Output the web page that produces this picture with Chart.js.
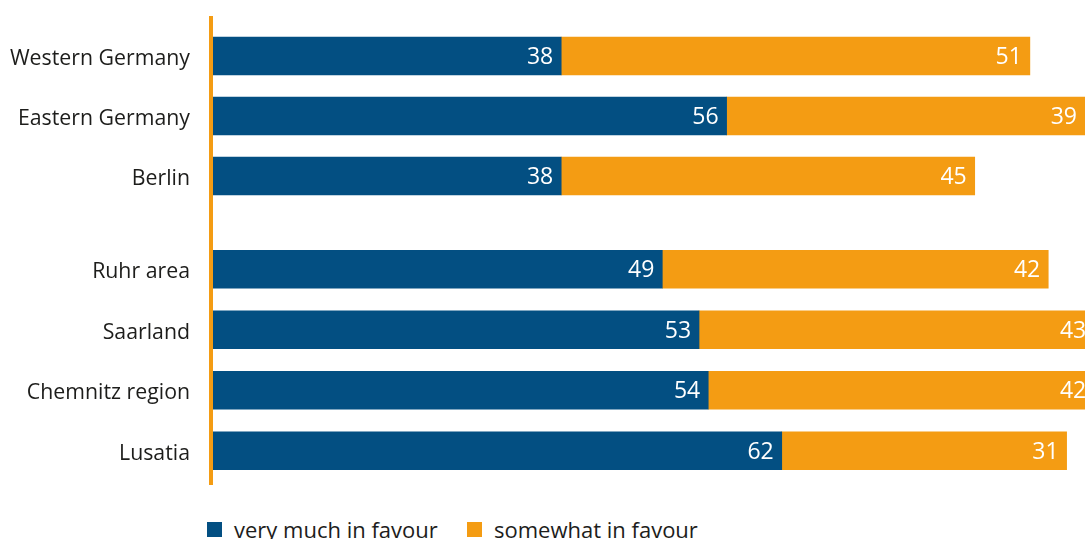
<!DOCTYPE html>
<html>
<head>
<meta charset="utf-8">
<script src="https://cdn.jsdelivr.net/npm/chart.js@4.4.0/dist/chart.umd.min.js"></script>
<style>
  body { margin: 0; background: #fff; font-family: "Open Sans", sans-serif; }
  #wrap { position: relative; width: 1085px; height: 539px; overflow: hidden; }
  #topBox { position: absolute; left: 0; top: 26px; }
  #bottomBox { position: absolute; left: 0; top: 239px; }
  #axisLine { position: absolute; left: 209px; top: 16px; width: 4px; height: 469px; background: #f49c13; }
  #legend { position: absolute; left: 207px; top: 515px; display: flex; color: #1d1d1b; font-size: 22px; line-height: 28px; }
  #legend .item { display: flex; align-items: center; }
  #legend .item:first-child { width: 260px; }
  #legend .sq { width: 15px; height: 15px; margin-right: 12px; }
</style>
</head>
<body>
<div id="wrap">
  <div id="topBox"><canvas id="topChart" width="1085" height="180"></canvas></div>
  <div id="bottomBox"><canvas id="bottomChart" width="1085" height="242"></canvas></div>
  <div id="axisLine"></div>
  <div id="legend"></div>
</div>
<script>
// regions, upper block
const regionsTop = ["Western Germany", "Eastern Germany", "Berlin"];
const veryMuchTop = [38, 56, 38];
const somewhatTop = [51, 39, 45];

// regions, lower block
const regionsBottom = ["Ruhr area", "Saarland", "Chemnitz region", "Lusatia"];
const veryMuchBottom = [49, 53, 54, 62];
const somewhatBottom = [42, 43, 42, 31];

const seriesNames = ["very much in favour", "somewhat in favour"];
const seriesColors = ["#034f82", "#f49c13"];

// white numbers at the right end of each bar piece
const barNumbers = {
  id: "barNumbers",
  afterDatasetsDraw(chart) {
    const ctx = chart.ctx;
    ctx.save();
    ctx.fillStyle = "#ffffff";
    ctx.font = "500 23px 'Open Sans'";
    ctx.textAlign = "right";
    ctx.textBaseline = "middle";
    chart.data.datasets.forEach((ds, i) => {
      chart.getDatasetMeta(i).data.forEach((bar, j) => {
        ctx.fillText(ds.data[j], bar.x - 8, bar.y + 1.5);
      });
    });
    ctx.restore();
  }
};

function makeChart(id, labels, veryMuch, somewhat) {
  const ctx = document.getElementById(id).getContext("2d");
  return new Chart(ctx, {
    type: "bar",
    data: {
      labels: labels,
      datasets: [
        { label: seriesNames[0], data: veryMuch, backgroundColor: seriesColors[0] },
        { label: seriesNames[1], data: somewhat, backgroundColor: seriesColors[1] }
      ]
    },
    options: {
      indexAxis: "y",
      responsive: false,
      animation: false,
      devicePixelRatio: 1,
      barThickness: 38,
      layout: { padding: 0 },
      plugins: { legend: { display: false }, tooltip: { enabled: false } },
      scales: {
        x: { stacked: true, min: 0, max: 95, display: false },
        y: {
          stacked: true,
          grid: { display: false, drawTicks: false },
          border: { display: false },
          ticks: { color: "#1d1d1b", padding: 22, labelOffset: 3, font: { family: "Open Sans", size: 21.3 } },
          // fixed label column, no extra room above/below the rows
          afterFit: (scale) => {
            scale.width = 212;
            scale.paddingTop = 0;
            scale.paddingBottom = 0;
          }
        }
      }
    },
    plugins: [barNumbers]
  });
}

function buildLegend() {
  const box = document.getElementById("legend");
  seriesNames.forEach((name, i) => {
    const item = document.createElement("div");
    item.className = "item";
    item.innerHTML = `<span class="sq" style="background:${seriesColors[i]}"></span><span>${name}</span>`;
    box.appendChild(item);
  });
}

window.addEventListener("DOMContentLoaded", () => {
  makeChart("topChart", regionsTop, veryMuchTop, somewhatTop);
  makeChart("bottomChart", regionsBottom, veryMuchBottom, somewhatBottom);
  buildLegend();
});
</script>
</body>
</html>
